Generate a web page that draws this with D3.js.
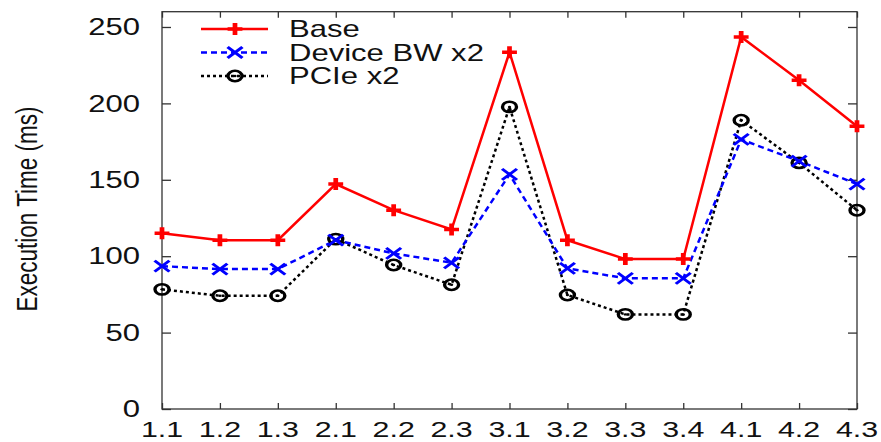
<!DOCTYPE html>
<html><head><meta charset="utf-8">
<script src="https://cdn.jsdelivr.net/npm/d3@7"></script>
<style>body{margin:0;background:#fff}svg{display:block}text{font-family:"Liberation Sans",Arial,sans-serif;fill:#111}</style>
</head><body><svg id="c" width="881" height="442"></svg>
<script>
const categories = ["1.1","1.2","1.3","2.1","2.2","2.3","3.1","3.2","3.3","3.4","4.1","4.2","4.3"];
const base     = [115,110.5,110.5,147.2,130.1,117.5,233.5,110.5,98.1,98.1,243.5,215.2,185];
const deviceBW = [93.5,91.6,91.6,110.5,101.8,95.7,153.5,92,85.5,85.5,176.4,162.2,147.2];
const pcie     = [78.3,74.1,74.1,111.2,94.2,81.3,197.7,74.6,61.9,61.9,189,161.1,130.1];
const yTicks = [0,50,100,150,200,250];
const seriesNames = ["Base","Device BW x2","PCIe x2"];
const yLabel = "Execution Time (ms)";

const SX = 1.35;
const L = 162, R = 857, T = 11.7, B = 409;
const svg = d3.select("#c");
const x = d3.scalePoint().domain(categories).range([L, R]).padding(0);
const y = d3.scaleLinear().domain([0, 260]).range([B, T]);

// ticks (inward, mirrored)
const tk = g => g.call(s => s.select(".domain").remove()).selectAll("line").attr("stroke","#333").attr("stroke-width",1.3);
svg.append("g").attr("transform",`translate(0,${B})`).call(d3.axisBottom(x).tickSize(-6).tickFormat("")).call(tk);
svg.append("g").attr("transform",`translate(0,${T})`).call(d3.axisTop(x).tickSize(-6).tickFormat("")).call(tk);
svg.append("g").attr("transform",`translate(${L},0)`).call(d3.axisLeft(y).tickValues(yTicks).tickSize(-9).tickFormat("")).call(tk);
svg.append("g").attr("transform",`translate(${R},0)`).call(d3.axisRight(y).tickValues(yTicks).tickSize(-9).tickFormat("")).call(tk);
svg.append("rect").attr("x",L).attr("y",T).attr("width",R-L).attr("height",B-T)
  .attr("fill","none").attr("stroke","#333").attr("stroke-width",1.3);

// tick labels
svg.append("g").selectAll("text").data(yTicks).join("text")
  .attr("transform", d => `translate(140,${y(d)}) scale(${SX},1)`)
  .attr("text-anchor","end").attr("dy","0.36em").style("font-size","23px").text(d => d);
svg.append("g").selectAll("text").data(categories).join("text")
  .attr("transform", d => `translate(${x(d)},437) scale(${SX},1)`)
  .attr("text-anchor","middle").style("font-size","22.5px").text(d => d);
svg.append("text").attr("transform",`translate(37,209) scale(${SX},1) rotate(-90)`)
  .attr("text-anchor","middle").style("font-size","22.5px").text(yLabel);

// series
const series = [
  {name: seriesNames[0], values: base, color: "#ff0000", dash: null, marker: "plus"},
  {name: seriesNames[1], values: deviceBW, color: "#0000ff", dash: "6,4", marker: "x"},
  {name: seriesNames[2], values: pcie, color: "#000000", dash: "3,3", marker: "circle"}
];
function drawMarker(g, type, color) {
  if (type === "plus") {
    g.append("path").attr("d","M-5.5,0H5.5M0,-6V6").attr("stroke",color).attr("stroke-width",3.5).attr("fill","none");
  } else if (type === "x") {
    g.append("path").attr("d","M-5.5,-5.5L5.5,5.5M-5.5,5.5L5.5,-5.5").attr("stroke",color).attr("stroke-width",2.5).attr("fill","none");
  } else {
    g.append("circle").attr("r",5.2).attr("stroke",color).attr("stroke-width",2.5).attr("fill","none");
    g.append("circle").attr("r",1.2).attr("fill",color);
  }
}
const line = d3.line().x((d,i) => x(categories[i])).y(d => y(d));
series.slice().reverse().forEach(s => {
  svg.append("path").datum(s.values).attr("d", line).attr("fill","none")
    .attr("stroke", s.color).attr("stroke-width", 2.5).attr("stroke-dasharray", s.dash);
});
series.slice().reverse().forEach(s => {
  s.values.forEach((v,i) => {
    const g = svg.append("g").attr("transform",`translate(${x(categories[i])},${y(v)}) scale(${SX},1)`);
    drawMarker(g, s.marker, s.color);
  });
});

// legend
series.forEach((s, i) => {
  const yy = 29 + i * 23.5;
  svg.append("line").attr("x1",201).attr("x2",268).attr("y1",yy).attr("y2",yy)
    .attr("stroke", s.color).attr("stroke-width",2.5).attr("stroke-dasharray", s.dash);
  const g = svg.append("g").attr("transform",`translate(235,${yy}) scale(${SX},1)`);
  drawMarker(g, s.marker, s.color);
  svg.append("text").attr("transform",`translate(289,${yy}) scale(${SX},1)`)
    .attr("dy","0.36em").style("font-size","23px").text(s.name);
});
</script></body></html>
